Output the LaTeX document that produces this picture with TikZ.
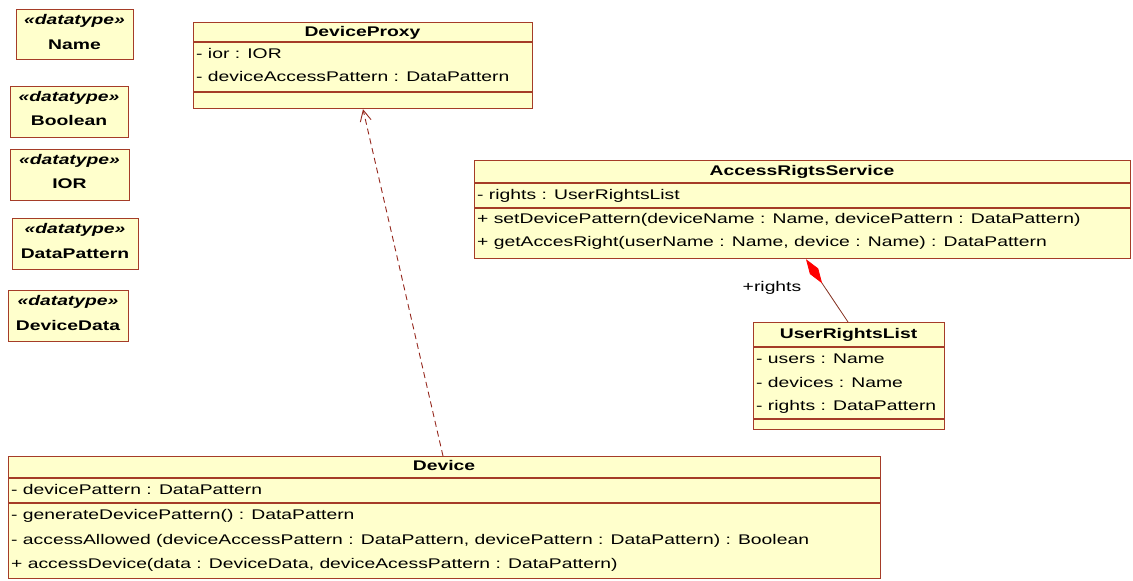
\documentclass[tikz,border=0pt]{standalone}
\usepackage{fontspec}
\newfontfamily\umlfont{Liberation Sans}[FakeStretch=1.38]
\usetikzlibrary{arrows.meta}
\definecolor{umlfill}{RGB}{255,255,204}
\definecolor{umlline}{RGB}{165,60,40}
\definecolor{depcol}{RGB}{150,40,30}
\begin{document}
\begin{tikzpicture}[x=1pt,y=-1pt,
  cls/.style={draw=umlline, fill=umlfill, line width=1.2pt, rectangle, inner sep=0pt, anchor=north west},
  sepline/.style={draw=umlline, line width=1.2pt},
  row/.style={anchor=west, inner sep=0pt, text height=10pt, text depth=3pt, font=\umlfont\fontsize{14}{16}\selectfont},
  ttl/.style={anchor=center, inner sep=0pt, text height=10pt, text depth=3pt, font=\umlfont\bfseries\fontsize{14}{16}\selectfont},
  ster/.style={anchor=center, inner sep=0pt, text height=10pt, text depth=3pt, font=\umlfont\bfseries\itshape\fontsize{14}{16}\selectfont},
  dep/.style={draw=depcol, line width=0.9pt, dash pattern=on 6pt off 4pt, -{Straight Barb[length=11pt,width=11pt,line width=0.9pt]}},
  comp/.style={draw=umlline!80!black, line width=0.8pt, {Diamond[length=29pt,width=10pt,fill=red,color=red]}-}
]
\useasboundingbox (0,0) rectangle (1133,581);
\fill[white] (0,0) rectangle (1133,581);

% datatype boxes
\node[cls, minimum width=117pt, minimum height=50pt] (dtName) at (16,9) {};
\node[ster] (dtNameS) at (74.5,21) {«datatype»};
\node[ttl] (dtNameN) at (74.5,46) {Name};

\node[cls, minimum width=118pt, minimum height=51pt] (dtBool) at (10,86) {};
\node[ster] (dtBoolS) at (69,98) {«datatype»};
\node[ttl] (dtBoolN) at (69,122) {Boolean};

\node[cls, minimum width=119pt, minimum height=51pt] (dtIOR) at (10,149) {};
\node[ster] (dtIORS) at (69.5,161) {«datatype»};
\node[ttl] (dtIORN) at (69.5,185) {IOR};

\node[cls, minimum width=126pt, minimum height=51pt] (dtDP) at (12,218) {};
\node[ster] (dtDPS) at (75,230) {«datatype»};
\node[ttl] (dtDPN) at (75,255) {DataPattern};

\node[cls, minimum width=120pt, minimum height=51pt] (dtDD) at (8,290) {};
\node[ster] (dtDDS) at (68,302) {«datatype»};
\node[ttl] (dtDDN) at (68,327) {DeviceData};

% DeviceProxy
\node[cls, minimum width=339pt, minimum height=86pt] (dp) at (193,22) {};
\draw[sepline] (193,42) -- (532,42);
\draw[sepline] (193,92) -- (532,92);
\node[ttl] (dpT) at (362.5,32.5) {DeviceProxy};
\node[row] (dpA1) at (196,55) {- ior : IOR};
\node[row] (dpA2) at (196,78) {- deviceAccessPattern : DataPattern};

% AccessRigtsService
\node[cls, minimum width=656pt, minimum height=98pt] (ars) at (474,160) {};
\draw[sepline] (474,183) -- (1130,183);
\draw[sepline] (474,208) -- (1130,208);
\node[ttl] (arsT) at (802,171.5) {AccessRigtsService};
\node[row] (arsA1) at (477,196) {- rights : UserRightsList};
\node[row] (arsO1) at (477,220) {+ setDevicePattern(deviceName : Name, devicePattern : DataPattern)};
\node[row] (arsO2) at (477,243) {+ getAccesRight(userName : Name, device : Name) : DataPattern};

% UserRightsList
\node[cls, minimum width=191pt, minimum height=107pt] (url) at (753,322) {};
\draw[sepline] (753,347) -- (944,347);
\draw[sepline] (753,419) -- (944,419);
\node[ttl] (urlT) at (848.5,334.5) {UserRightsList};
\node[row] (urlA1) at (756,360) {- users : Name};
\node[row] (urlA2) at (756,384) {- devices : Name};
\node[row] (urlA3) at (756,407) {- rights : DataPattern};

% Device
\node[cls, minimum width=872pt, minimum height=122pt] (dev) at (8,456) {};
\draw[sepline] (8,478) -- (880,478);
\draw[sepline] (8,503) -- (880,503);
\node[ttl] (devT) at (444,467) {Device};
\node[row] (devA1) at (11,491) {- devicePattern : DataPattern};
\node[row] (devO1) at (11,516) {- generateDevicePattern() : DataPattern};
\node[row] (devO2) at (11,541) {- accessAllowed (deviceAccessPattern : DataPattern, devicePattern : DataPattern) : Boolean};
\node[row] (devO3) at (11,565) {+ accessDevice(data : DeviceData, deviceAcessPattern : DataPattern)};

% connectors
\draw[dep] ([xshift=435pt]dev.north west) -- ([xshift=170pt]dp.south west);
\draw[comp] ([xshift=332pt]ars.south west) -- ([xshift=95pt]url.north west);
\node[row, anchor=center] (rightsLbl) at (772,288) {+rights};
\end{tikzpicture}
\end{document}
